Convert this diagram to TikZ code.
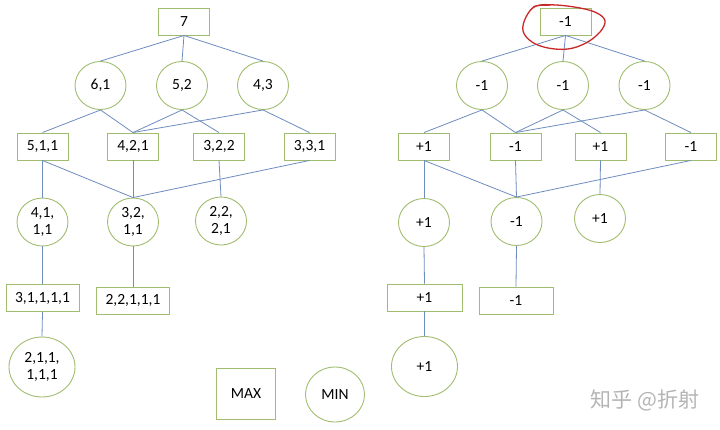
\documentclass[tikz,border=0pt]{standalone}
\usepackage{fontspec}
\setmainfont{Carlito}
\newfontfamily\cjk{Noto Sans CJK SC}
\usetikzlibrary{shapes.geometric}
\definecolor{nodegreen}{RGB}{160,188,110}
\definecolor{edgeblue}{RGB}{110,140,190}
\definecolor{markred}{RGB}{200,40,40}
\definecolor{wmgray}{RGB}{180,180,180}
\tikzset{
  maxbox/.style={draw=nodegreen,line width=0.9pt,rectangle,minimum width=51pt,minimum height=27pt,inner sep=0pt,font=\fontsize{15.5}{17}\selectfont},
  widebox/.style={maxbox,minimum width=73pt},
  minnode/.style={draw=nodegreen,line width=0.9pt,ellipse,minimum width=51pt,minimum height=48pt,inner sep=0pt,align=center,font=\fontsize{15.5}{17}\selectfont},
  bigmin/.style={minnode,minimum width=66pt,minimum height=60pt},
  link/.style={draw=edgeblue,line width=0.8pt},
}
\begin{document}
\begin{tikzpicture}[x=1pt,y=-1pt]
\useasboundingbox (0,0) rectangle (720,429);
% ---------- left tree ----------
\node[maxbox] (L7) at (184,21.5) {7};
\node[minnode] (L61) at (100.5,85.5) {6,1};
\node[minnode] (L52) at (182,85.5) {5,2};
\node[minnode] (L43) at (263,85.5) {4,3};
\node[maxbox] (L511) at (42.5,146.5) {5,1,1};
\node[maxbox] (L421) at (133,146.5) {4,2,1};
\node[maxbox] (L322) at (219,146.5) {3,2,2};
\node[maxbox] (L331) at (309.5,146.5) {3,3,1};
\node[minnode] (L4111) at (42.5,222) {4,1,\\1,1};
\node[minnode] (L3211) at (133,222) {3,2,\\1,1};
\node[minnode] (L2221) at (221,221) {2,2,\\2,1};
\node[widebox] (L31111) at (42.5,298) {3,1,1,1,1};
\node[widebox] (L22111) at (133,300.5) {2,2,1,1,1};
\node[bigmin] (L211111) at (42,367) {2,1,1,\\1,1,1};
\foreach \a/\b in {L7/L61,L7/L52,L7/L43,L61/L511,L61/L421,L52/L421,L52/L322,L43/L421,L43/L331,
  L511/L4111,L511/L3211,L421/L3211,L322/L2221,L331/L3211,L4111/L31111,L3211/L22111,L31111/L211111}
  \draw[link] (\a.south) -- (\b.north);
% ---------- legend ----------
\node[maxbox,minimum width=59pt,minimum height=51pt] (MAX) at (246,393.5) {MAX};
\node[minnode,minimum width=59pt,minimum height=55pt] (MIN) at (335,394.5) {MIN};
% ---------- right tree ----------
\node[maxbox] (R0) at (565.5,21.5) {-1};
\node[minnode] (R1) at (482,85.5) {-1};
\node[minnode] (R2) at (563,85.5) {-1};
\node[minnode] (R3) at (644.5,85.5) {-1};
\node[maxbox] (R4) at (424,146.5) {+1};
\node[maxbox] (R5) at (515.5,146.5) {-1};
\node[maxbox] (R6) at (600.5,146.5) {+1};
\node[maxbox] (R7) at (691,146.5) {-1};
\node[minnode] (R8) at (424,222.5) {+1};
\node[minnode] (R9) at (516.5,221.5) {-1};
\node[minnode] (R10) at (600,218.5) {+1};
\node[widebox,minimum width=75pt] (R11) at (424.5,297.5) {+1};
\node[widebox,minimum width=74pt] (R12) at (516,300.5) {-1};
\node[bigmin] (R13) at (424.5,366.5) {+1};
\foreach \a/\b in {R0/R1,R0/R2,R0/R3,R1/R4,R1/R5,R2/R5,R2/R6,R3/R5,R3/R7,
  R4/R8,R4/R9,R5/R9,R6/R10,R7/R9,R8/R11,R9/R12,R11/R13}
  \draw[link] (\a.south) -- (\b.north);
% red hand-drawn mark
\draw[markred,line width=1.3pt,line join=round] plot[smooth cycle,tension=0.6] coordinates
  {(536,6) (556,5) (580,8) (597,13) (605,21) (600,32) (586,43) (568,49) (548,48) (532,42) (523,31) (526,17)};
\draw[markred,line width=1.1pt] (533,7) .. controls (540,4) and (546,6) .. (551,5);
% watermark
\node[text=wmgray,font=\cjk\fontsize{21}{23}\selectfont,inner sep=0pt] (WM) at (645,400) {知乎 @折射};
\end{tikzpicture}
\end{document}
